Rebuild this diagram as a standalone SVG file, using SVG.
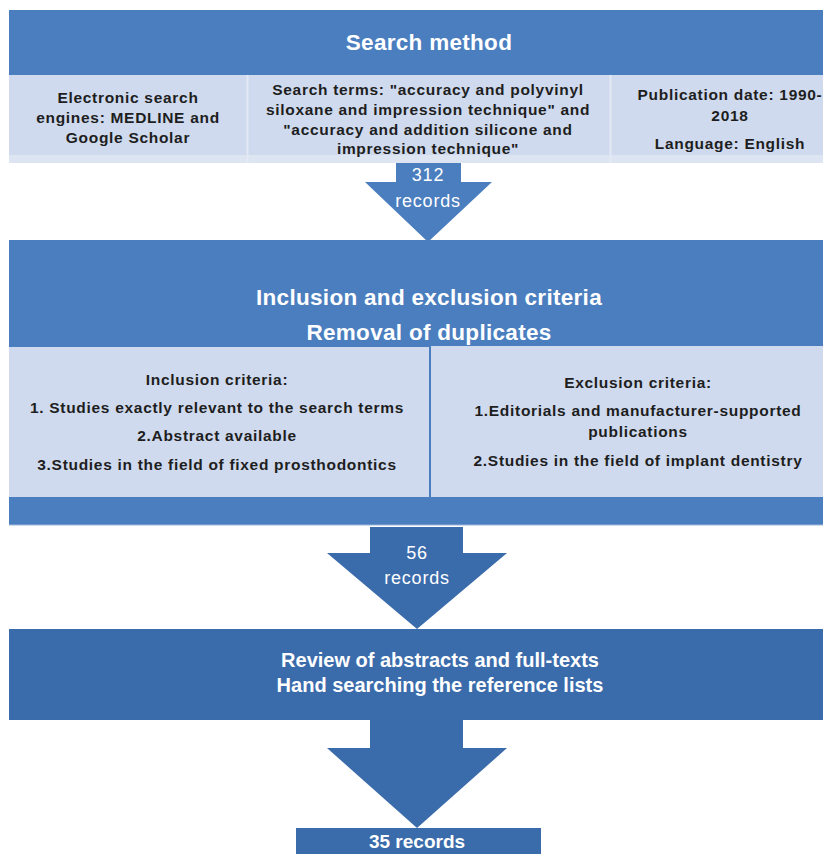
<svg xmlns="http://www.w3.org/2000/svg" width="823" height="854" viewBox="0 0 823 854">
<style>
.hdr{fill:#4a7ebf}
.dark{fill:#3a6bab}
.cell{fill:#cfdaee}
.t{font-family:"Liberation Sans",Arial,sans-serif;font-weight:bold;text-anchor:middle}
.w{fill:#ffffff}
.k{fill:#1e1e1e;font-size:15.5px;letter-spacing:0.7px}
.h{font-size:22.5px;letter-spacing:0.3px}
.n{font-family:"Liberation Sans",Arial,sans-serif;text-anchor:middle;fill:#ffffff;font-size:18px;letter-spacing:0.8px}
</style>
<rect width="823" height="854" fill="#ffffff"/>
<g id="connectors">
  <polygon class="hdr" points="396,162 461,162 461,182 492,182 428,242 365,182 396,182"/>
  <polygon class="dark" points="370,527 463,527 463,553 507,553 417,629 327,553 370,553"/>
  <polygon class="dark" points="370,720 463,720 463,748 507,748 417,828 327,748 370,748"/>
  <text class="n" x="428" y="181">312</text>
  <text class="n" x="428" y="207">records</text>
  <text class="n" x="417" y="559">56</text>
  <text class="n" x="417" y="584">records</text>
</g>
<g id="search-method">
  <rect class="hdr" x="9" y="10" width="814" height="65"/>
  <rect class="cell" x="9" y="75" width="814" height="80"/>
  <rect x="9" y="155" width="814" height="8" fill="#dde5f3"/>
  <line x1="247.5" y1="75" x2="247.5" y2="163" stroke="#e3e9f5" stroke-width="2"/>
  <line x1="610.5" y1="75" x2="610.5" y2="163" stroke="#e3e9f5" stroke-width="2"/>
  <text class="t w h" x="429" y="50">Search method</text>
  <text class="t k" x="128" y="103">Electronic search</text>
  <text class="t k" x="128" y="123">engines: MEDLINE and</text>
  <text class="t k" x="128" y="143">Google Scholar</text>
  <text class="t k" x="428" y="95">Search terms: "accuracy and polyvinyl</text>
  <text class="t k" x="428" y="115">siloxane and impression technique" and</text>
  <text class="t k" x="428" y="135">"accuracy and addition silicone and</text>
  <text class="t k" x="428" y="154">impression technique"</text>
  <text class="t k" x="730" y="100">Publication  date: 1990-</text>
  <text class="t k" x="730" y="121">2018</text>
  <text class="t k" x="730" y="149">Language: English</text>
</g>
<g id="criteria">
  <rect class="hdr" x="9" y="240" width="814" height="285"/>
  <rect class="cell" x="9" y="347" width="420" height="150"/>
  <rect class="cell" x="431" y="346" width="392" height="151"/>
  <line x1="9" y1="525" x2="823" y2="525" stroke="#9db5db" stroke-width="1"/>
  <text class="t w h" x="429" y="305">Inclusion and exclusion criteria</text>
  <text class="t w h" x="429" y="340">Removal of duplicates</text>
  <text class="t k" x="217" y="385">Inclusion criteria:</text>
  <text class="t k" x="217" y="413">1. Studies exactly relevant to the search terms</text>
  <text class="t k" x="217" y="441">2.Abstract available</text>
  <text class="t k" x="217" y="470">3.Studies in the field of fixed prosthodontics</text>
  <text class="t k" x="638" y="388">Exclusion criteria:</text>
  <text class="t k" x="638" y="416">1.Editorials and manufacturer-supported</text>
  <text class="t k" x="638" y="437">publications</text>
  <text class="t k" x="638" y="466">2.Studies in the field of implant dentistry</text>
</g>
<g id="review">
  <rect class="dark" x="9" y="629" width="814" height="91"/>
  <text class="t w" style="font-size:20px" x="440" y="667">Review of abstracts and full-texts</text>
  <text class="t w" style="font-size:20px" x="440" y="692">Hand searching the reference lists</text>
</g>
<g id="final">
  <rect class="dark" x="296" y="828" width="245" height="26"/>
  <text class="t w" style="font-size:19px" x="417" y="848">35 records</text>
</g>
</svg>
